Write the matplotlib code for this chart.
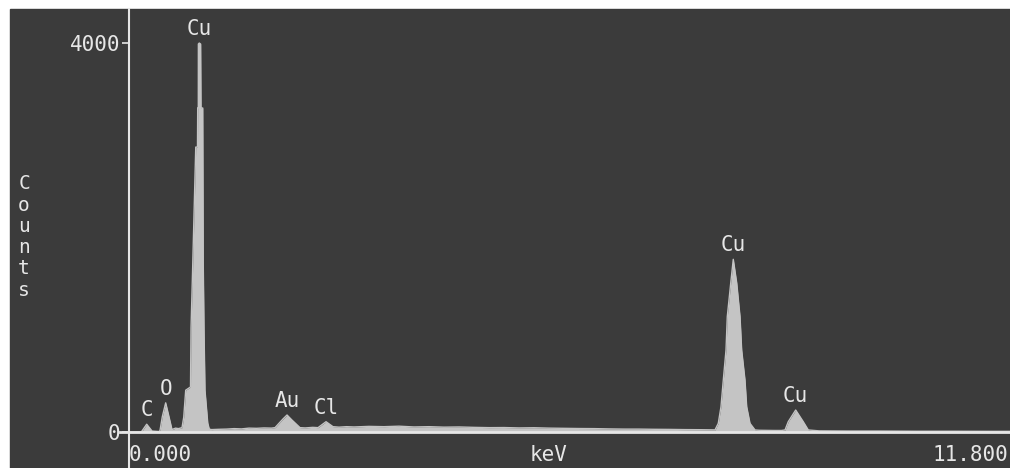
import matplotlib.pyplot as plt
from matplotlib.patches import Rectangle
import numpy as np

# EDS spectrum (energy in keV, counts)
energy = [0.00, 0.16, 0.173, 0.236, 0.307, 0.40, 0.413, 0.444, 0.489, 0.533, 0.573,
          0.62, 0.66, 0.707, 0.73, 0.756, 0.82, 0.827, 0.845, 0.89, 0.913, 0.916,
          0.924, 0.925, 0.937, 0.955, 0.96, 0.983, 0.99, 1.00, 1.013, 1.05, 1.07,
          1.10, 1.20, 1.30, 1.40, 1.50, 1.60, 1.70, 1.80, 1.90, 1.947, 2.053,
          2.107, 2.173, 2.28, 2.35, 2.45, 2.52, 2.627, 2.72, 2.80, 2.90, 3.00,
          3.20, 3.40, 3.60, 3.80, 4.00, 4.20, 4.40, 4.60, 4.80, 5.00, 5.20,
          5.40, 5.60, 5.80, 6.00, 6.20, 6.40, 6.60, 6.80, 7.00, 7.20, 7.40,
          7.60, 7.80, 7.813, 7.857, 7.893, 7.924, 7.96, 7.977, 8.023, 8.057,
          8.103, 8.147, 8.169, 8.213, 8.236, 8.28, 8.347, 8.40, 8.60, 8.70,
          8.747, 8.79, 8.889, 8.99, 9.057, 9.20, 9.60, 10.0, 10.5, 11.0,
          11.5, 11.8]
counts = [0, 0, 10, 80, 10, 5, 15, 157, 300, 157, 25,
          40, 35, 45, 154, 430, 463, 1070, 1580, 2930, 2930, 3332,
          3332, 3990, 4000, 3990, 3332, 3332, 1738, 1069, 430, 92, 30,
          25, 28, 30, 35, 32, 40, 38, 42, 40, 45, 134,
          175, 123, 45, 42, 48, 45, 106, 55, 50, 55, 52,
          58, 55, 60, 52, 55, 50, 52, 48, 45, 46, 42,
          44, 40, 38, 36, 35, 32, 30, 30, 28, 27, 25,
          24, 22, 21, 89, 260, 535, 843, 1186, 1532, 1776,
          1532, 1186, 843, 535, 260, 89, 21, 18, 16, 16,
          21, 106, 226, 106, 21, 12, 10, 10, 8, 8,
          7, 7]

peak_names = ['C', 'O', 'Cu', 'Au', 'Cl', 'Cu', 'Cu']
peak_energy = [0.236, 0.489, 0.937, 2.107, 2.627, 8.057, 8.889]

y_ticks = [0, 4000]
x_min, x_max = 0.0, 11.8

bg = '#3b3b3b'
fg = '#e6e6e6'
fill = '#c4c4c4'
mono = 'DejaVu Sans Mono'
fs = 15

fig = plt.figure(figsize=(10.1, 4.68), dpi=100, facecolor='white')
fig.patches.append(Rectangle((10 / 1010, 0), 1, 459 / 468, transform=fig.transFigure,
                             color=bg, zorder=-10))

ax = fig.add_axes([129 / 1010, 0, 885 / 1010, 459 / 468])
ax.patch.set_alpha(0)
ax.set_xlim(x_min, x_max)
ax.set_ylim(-370, 4350)

ax.fill_between(energy, counts, 0, color=fill, lw=0, zorder=2)
ax.plot(energy, counts, color=fill, lw=1.0, zorder=2)
ax.axhline(0, xmin=-0.0102, xmax=1, color=fg, lw=2, clip_on=False, zorder=3)

for name, e in zip(peak_names, peak_energy):
    ax.annotate(name, (e, np.interp(e, energy, counts)), xytext=(0, 3),
                textcoords='offset points', ha='center', va='bottom',
                color=fg, fontsize=fs, family=mono)

for s in ['top', 'right', 'bottom']:
    ax.spines[s].set_visible(False)
ax.spines['left'].set_color(fg)
ax.spines['left'].set_linewidth(1.5)

ax.set_xticks([])
ax.set_yticks(y_ticks)
ax.set_yticklabels([str(t) for t in y_ticks])
ax.tick_params(axis='y', colors=fg, length=5, width=1.2, pad=1,
               labelsize=fs)
for lab in ax.get_yticklabels():
    lab.set_family(mono)

ax.text(x_min, -240, '0.000', ha='left', va='center', color=fg, fontsize=fs, family=mono)
ax.text((x_min + x_max) / 2 - 0.3, -240, 'keV', ha='center', va='center', color=fg,
        fontsize=fs, family=mono)
fig.text(1008 / 1010, 1 - 455 / 468, '11.800', ha='right', va='center', color=fg,
         fontsize=fs, family=mono)

fig.text(24 / 1010, 1 - 237 / 468, 'C\no\nu\nn\nt\ns', ha='center', va='center',
         color=fg, fontsize=fs - 1, family=mono, linespacing=1.15)

fig.savefig('out.png', dpi=100, facecolor=fig.get_facecolor())
